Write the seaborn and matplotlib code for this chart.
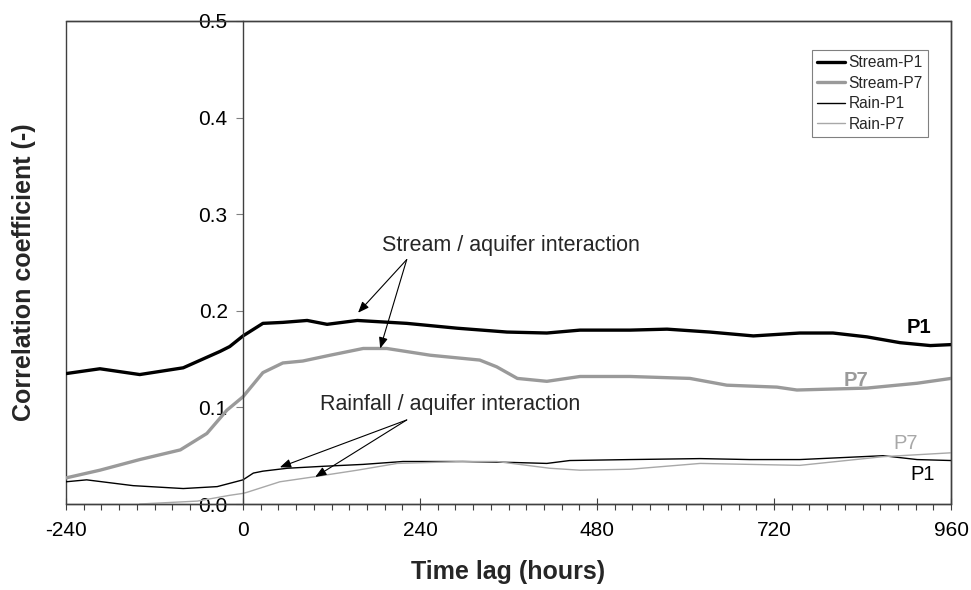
import matplotlib
matplotlib.use("Agg")
import matplotlib.pyplot as plt
import seaborn as sns
from matplotlib.ticker import MultipleLocator, FixedLocator

# ---------------- data ----------------
stream_p1_lag = [-240, -194, -140, -81, -31, -18, 0, 27, 54, 87, 114, 155, 222, 290, 358,
                 412, 457, 525, 575, 633, 692, 755, 800, 846, 891, 932, 960]
stream_p1_r = [0.135, 0.140, 0.134, 0.141, 0.158, 0.163, 0.174, 0.187, 0.188, 0.190, 0.186,
               0.190, 0.187, 0.182, 0.178, 0.177, 0.180, 0.180, 0.181, 0.178, 0.174, 0.177,
               0.177, 0.173, 0.167, 0.164, 0.165]

stream_p7_lag = [-240, -194, -140, -85, -49, -22, 0, 27, 54, 81, 118, 163, 195, 254, 321,
                 344, 372, 412, 457, 525, 606, 656, 724, 751, 846, 914, 960]
stream_p7_r = [0.027, 0.035, 0.046, 0.056, 0.073, 0.097, 0.111, 0.136, 0.146, 0.148, 0.154,
               0.161, 0.161, 0.154, 0.149, 0.142, 0.130, 0.127, 0.132, 0.132, 0.130, 0.123,
               0.121, 0.118, 0.120, 0.125, 0.130]

rain_p1_lag = [-240, -212, -149, -81, -35, 0, 14, 27, 60, 108, 163, 217, 298, 366, 412, 443,
               525, 620, 687, 755, 868, 914, 960]
rain_p1_r = [0.023, 0.025, 0.019, 0.016, 0.018, 0.025, 0.032, 0.034, 0.037, 0.039, 0.041,
             0.044, 0.044, 0.043, 0.042, 0.045, 0.046, 0.047, 0.046, 0.046, 0.050, 0.046, 0.045]

rain_p7_lag = [-140, -62, -18, 0, 5, 50, 95, 155, 209, 298, 344, 416, 457, 525, 620, 755, 868, 960]
rain_p7_r = [0.000, 0.003, 0.009, 0.011, 0.012, 0.023, 0.028, 0.035, 0.042, 0.044, 0.044,
             0.037, 0.035, 0.036, 0.042, 0.040, 0.049, 0.053]

series_names = ["Stream-P1", "Stream-P7", "Rain-P1", "Rain-P7"]
x_ticks = [-240, 0, 240, 480, 720, 960]
y_ticks = [0.0, 0.1, 0.2, 0.3, 0.4, 0.5]
y_tick_labels = ["0.0", "0.1", "0.2", "0.3", "0.4", "0.5"]

# ---------------- style ----------------
sns.set_theme(style="white")
plt.rcParams["font.family"] = ["Liberation Sans", "DejaVu Sans"]
plt.rcParams["axes.unicode_minus"] = False

fig = plt.figure(figsize=(9.71, 5.90), dpi=100)
W, H = 971, 590
ax = fig.add_axes([66 / W, 1 - 504 / H, (951 - 66) / W, (504 - 21) / H])

frame_c = "#404040"
gray_thick = "#9a9a9a"
gray_thin = "#a8a8a8"

data = [
    (series_names[0], stream_p1_lag, stream_p1_r, "black", 2.4),
    (series_names[1], stream_p7_lag, stream_p7_r, gray_thick, 2.4),
    (series_names[2], rain_p1_lag, rain_p1_r, "black", 1.0),
    (series_names[3], rain_p7_lag, rain_p7_r, gray_thin, 1.0),
]
for name, xs, ys, c, lw in data:
    sns.lineplot(x=xs, y=ys, ax=ax, color=c, linewidth=lw, label=name,
                 estimator=None, sort=False)

ax.set_xlim(-240, 960)
ax.set_ylim(0, 0.5)

# frame
ax.patch.set_edgecolor(frame_c)
ax.patch.set_linewidth(1.0)
for s in ["top", "right", "bottom"]:
    ax.spines[s].set_visible(True)
    ax.spines[s].set_color(frame_c)
    ax.spines[s].set_linewidth(1.0)
ax.spines["left"].set_position(("data", 0))
ax.spines["left"].set_color(frame_c)
ax.spines["left"].set_linewidth(1.0)

# ticks
ax.xaxis.set_major_locator(FixedLocator(x_ticks))
ax.xaxis.set_minor_locator(MultipleLocator(24))
ax.set_yticks(y_ticks)
ax.set_yticklabels(y_tick_labels)
ax.tick_params(axis="x", which="major", direction="inout", length=9, width=0.8,
               color=frame_c, labelsize=15, pad=8, bottom=True)
ax.tick_params(axis="x", which="minor", direction="out", length=4.5, width=0.8,
               color=frame_c, bottom=True)
ax.tick_params(axis="y", which="major", direction="out", length=5, width=0.8,
               color="#808080", labelsize=15, pad=6, left=True)
for lab in ax.get_xticklabels() + ax.get_yticklabels():
    lab.set_color("black")

ax.set_xlabel("Time lag (hours)", fontsize=18, fontweight="bold")
ax.set_ylabel("Correlation coefficient (-)", fontsize=18, fontweight="bold")
ax.xaxis.set_label_coords(0.5, -0.115)
ax.yaxis.set_label_coords(-0.034, 0.48)

# legend
leg = ax.legend(loc="upper left", bbox_to_anchor=(812 / W, 1 - 50 / H),
                bbox_transform=fig.transFigure, borderaxespad=0, fontsize=11.2,
                frameon=True, fancybox=False, edgecolor="#808080", framealpha=1,
                handlelength=1.75, handletextpad=0.25, labelspacing=0.35,
                borderpad=0.35)
leg.get_frame().set_linewidth(0.8)

# annotations
ax.text(363, 0.268, "Stream / aquifer interaction", fontsize=15.5, ha="center", va="center")
ax.text(281, 0.1025, "Rainfall / aquifer interaction", fontsize=15.5, ha="center", va="center")
arrow_kw = dict(arrowstyle="-|>,head_length=0.55,head_width=0.22", color="black", lw=0.8,
                shrinkA=0, shrinkB=0, mutation_scale=12)
for tip in [(156, 0.198), (186, 0.161)]:
    ax.annotate("", xy=tip, xytext=(222, 0.253), arrowprops=arrow_kw)
for tip in [(50, 0.038), (98, 0.028)]:
    ax.annotate("", xy=tip, xytext=(222, 0.087), arrowprops=arrow_kw)

ax.text(917, 0.183, "P1", fontsize=14.5, fontweight="bold", color="black", ha="center", va="center")
ax.text(831, 0.128, "P7", fontsize=14.5, fontweight="bold", color=gray_thick, ha="center", va="center")
ax.text(899, 0.063, "P7", fontsize=14.5, color=gray_thin, ha="center", va="center")
ax.text(921, 0.031, "P1", fontsize=14.5, color="black", ha="center", va="center")

fig.savefig("out.png", dpi=100)
